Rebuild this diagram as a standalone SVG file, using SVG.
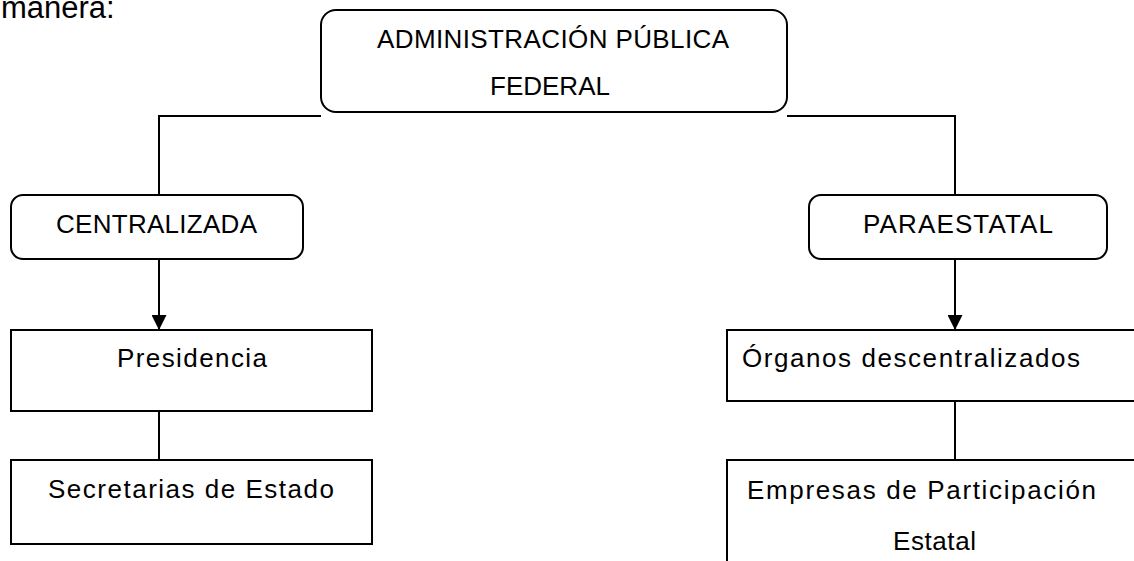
<svg xmlns="http://www.w3.org/2000/svg" width="1134" height="561" viewBox="0 0 1134 561">
<defs>
<style>
.box{fill:#fff;stroke:#000;stroke-width:2}
.t{font-family:"Liberation Sans",Arial,sans-serif;font-size:26px;fill:#000}
.ln{fill:none;stroke:#000;stroke-width:2}
</style>
<marker id="ah" markerWidth="15" markerHeight="15" refX="14" refY="7.5" orient="auto" markerUnits="userSpaceOnUse">
<path d="M0,0 L15,7.5 L0,15 Z" fill="#000"/>
</marker>
</defs>
<rect width="1134" height="561" fill="#fff"/>
<text class="t" x="1" y="18" style="font-size:31px">manera:</text>
<g id="connectors">
<path class="ln" d="M321,116 H159 V195"/>
<path class="ln" d="M787,116 H955 V195"/>
<path class="ln" d="M159,259 V329" marker-end="url(#ah)"/>
<path class="ln" d="M955,259 V329" marker-end="url(#ah)"/>
<path class="ln" d="M159,411 V460"/>
<path class="ln" d="M955,401 V460"/>
</g>
<g id="n-apf">
<rect class="box" x="321" y="10" width="466" height="102" rx="15"/>
<text class="t" x="377" y="48" textLength="352">ADMINISTRACIÓN PÚBLICA</text>
<text class="t" x="550" y="95" text-anchor="middle">FEDERAL</text>
</g>
<g id="n-centralizada">
<rect class="box" x="11" y="195" width="292" height="64" rx="12"/>
<text class="t" x="56" y="233" textLength="201">CENTRALIZADA</text>
</g>
<g id="n-paraestatal">
<rect class="box" x="809" y="195" width="298" height="64" rx="12"/>
<text class="t" x="863" y="233" textLength="190">PARAESTATAL</text>
</g>
<g id="n-presidencia">
<rect class="box" x="11" y="330" width="361" height="81"/>
<text class="t" x="117" y="367" textLength="150">Presidencia</text>
</g>
<g id="n-secretarias">
<rect class="box" x="11" y="460" width="361" height="84"/>
<text class="t" x="48" y="498" textLength="286">Secretarias de Estado</text>
</g>
<g id="n-organos">
<rect class="box" x="727" y="330" width="430" height="71"/>
<text class="t" x="742" y="367" textLength="338">Órganos descentralizados</text>
</g>
<g id="n-empresas">
<rect class="box" x="727" y="460" width="430" height="130"/>
<text class="t" x="747" y="499" textLength="349">Empresas de Participación</text>
<text class="t" x="893" y="550" textLength="83">Estatal</text>
</g>
</svg>
